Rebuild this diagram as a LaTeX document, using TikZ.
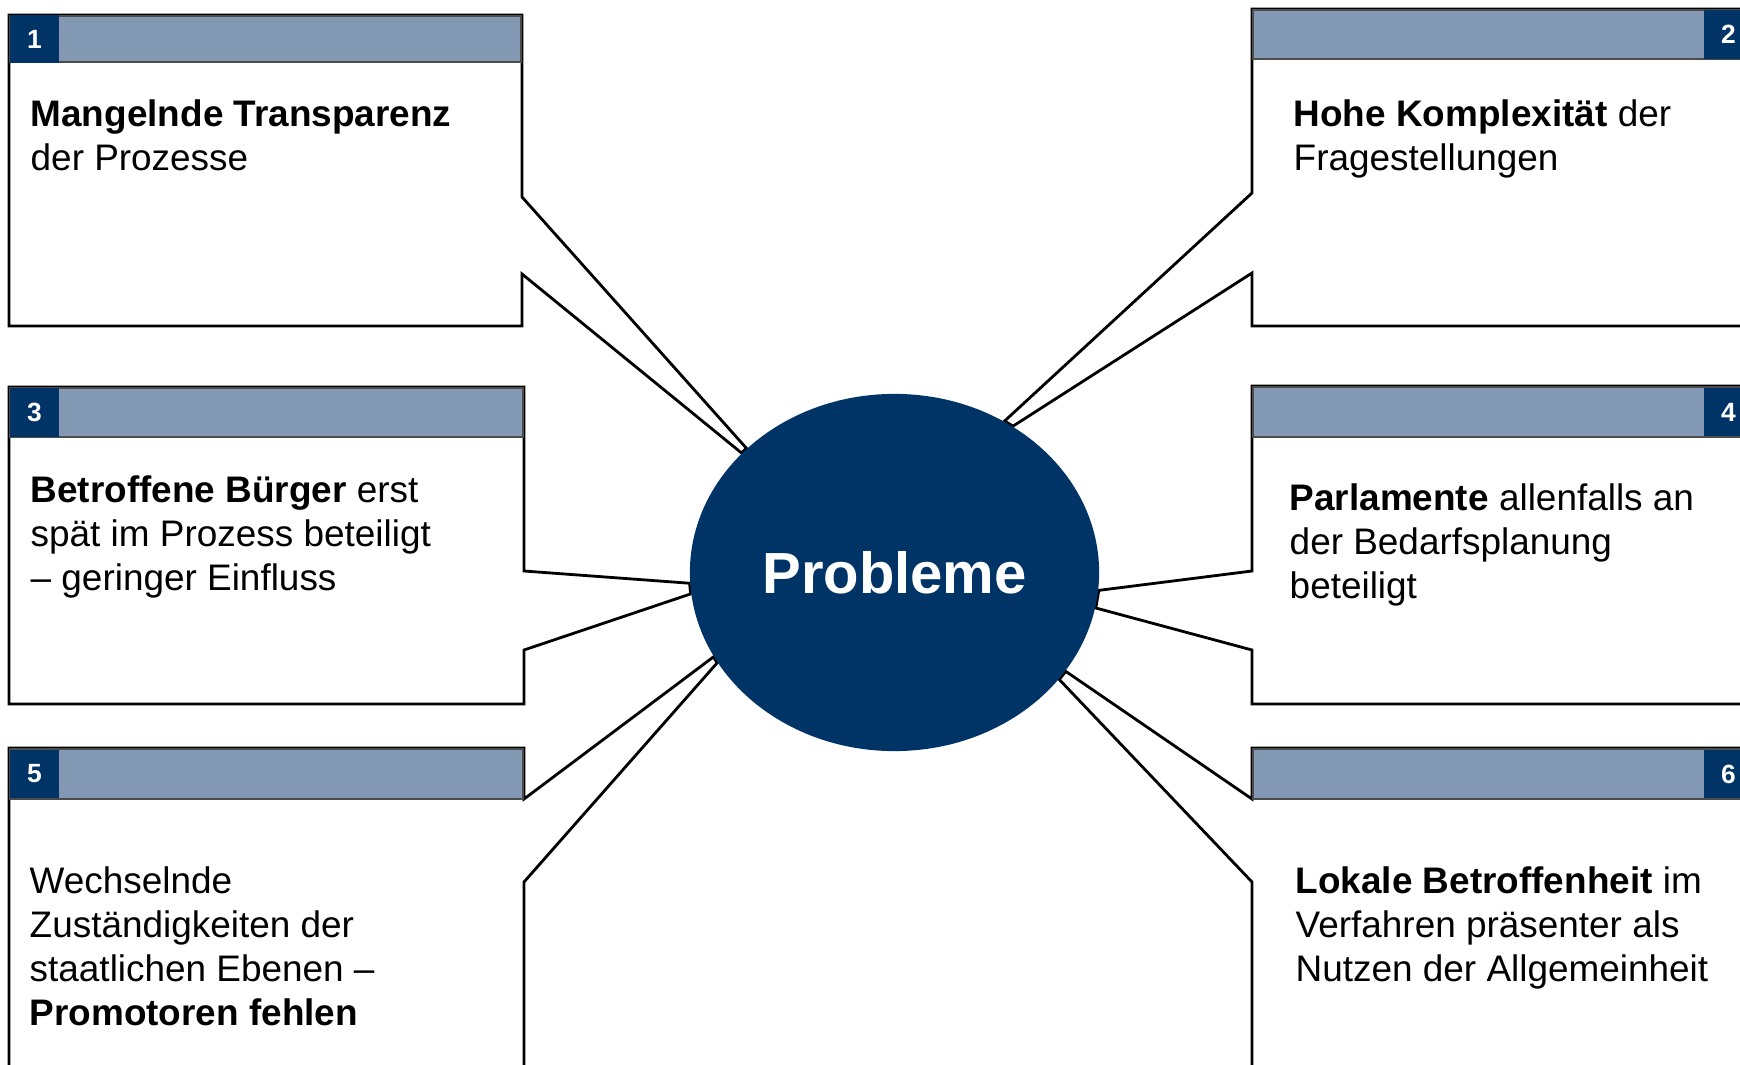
\documentclass[tikz,border=0pt]{standalone}
\usepackage{fontspec}
\setmainfont{Liberation Sans}
\usetikzlibrary{shapes.geometric,backgrounds}
\definecolor{navy}{RGB}{0,51,102}
\definecolor{barblue}{RGB}{131,153,179}
\begin{document}
\begin{tikzpicture}[x=0.01cm, y=-0.01cm,
        boxline/.style={draw=black, line width=0.8pt, fill=white, line join=miter},
        headbar/.style={fill=barblue, draw=black!70, line width=0.4pt},
        numcell/.style={fill=navy, text=white, inner sep=0pt, minimum width=0.49cm, minimum height=0.48cm, font=\fontsize{7.5}{9}\selectfont\bfseries},
        bodytext/.style={anchor=north west, inner sep=0pt, align=left, font=\fontsize{10.5}{12.5}\selectfont}]
        \useasboundingbox (0,0) rectangle (1740,1064);
        \clip (0,0) rectangle (1740,1064);
        \node [ellipse, fill=navy, text=white, inner sep=0pt, minimum width=4.09cm, minimum height=3.57cm, font=\fontsize{16.5}{20}\selectfont\bfseries] (prob) at (894.5,572.5) {Probleme};
        \begin{scope}[on background layer]
        \draw [boxline] (9,15) -- (522,15) -- (522,197) -- (prob.140) -- (prob.142) -- (522,274) -- (522,326) -- (9,326) -- cycle;
        \draw [boxline] (1252,9) -- (1760,9) -- (1760,326) -- (1252,326) -- (1252,273) -- (prob.51) -- (prob.54) -- (1252,193) -- cycle;
        \draw [boxline] (9,387) -- (524,387) -- (524,571) -- (prob.183) -- (prob.186) -- (524,650) -- (524,704) -- (9,704) -- cycle;
        \draw [boxline] (1252,386) -- (1760,386) -- (1760,704) -- (1252,704) -- (1252,650) -- (prob.350) -- (prob.355) -- (1252,571) -- cycle;
        \draw [boxline] (9,748) -- (524,748) -- (524,799) -- (prob.205) -- (prob.207) -- (524,882) -- (524,1100) -- (9,1100) -- cycle;
        \draw [boxline] (1252,748) -- (1760,748) -- (1760,1100) -- (1252,1100) -- (1252,882) -- (prob.327) -- (prob.330) -- (1252,799) -- cycle;
        \draw [headbar] (10,16) rectangle (521,62);
        \draw [headbar] (1253,10) rectangle (1760,59);
        \draw [headbar] (10,388) rectangle (523,437);
        \draw [headbar] (1253,387) rectangle (1760,437);
        \draw [headbar] (10,749) rectangle (523,799);
        \draw [headbar] (1253,749) rectangle (1760,799);
        \end{scope}
        \node [numcell] (n1) at (34.5,39) {1};
        \node [numcell] (n2) at (1728.5,34.5) {2};
        \node [numcell] (n3) at (34.5,412.5) {3};
        \node [numcell] (n4) at (1728.5,412) {4};
        \node [numcell] (n5) at (34.5,774) {5};
        \node [numcell] (n6) at (1728.5,774) {6};
        \node [bodytext] (t1) at (30,99) {\textbf{Mangelnde Transparenz}\\der Prozesse};
        \node [bodytext] (t2) at (1293,99) {\textbf{Hohe Komplexität} der\\Fragestellungen};
        \node [bodytext] (t3) at (30,475) {\textbf{Betroffene Bürger} erst\\spät im Prozess beteiligt\\– geringer Einfluss};
        \node [bodytext] (t4) at (1289,483) {\textbf{Parlamente} allenfalls an\\der Bedarfsplanung\\beteiligt};
        \node [bodytext] (t5) at (29,866) {Wechselnde\\Zuständigkeiten der\\staatlichen Ebenen –\\\textbf{Promotoren fehlen}};
        \node [bodytext] (t6) at (1295,866) {\textbf{Lokale Betroffenheit} im\\Verfahren präsenter als\\Nutzen der Allgemeinheit};
\end{tikzpicture}
\end{document}
